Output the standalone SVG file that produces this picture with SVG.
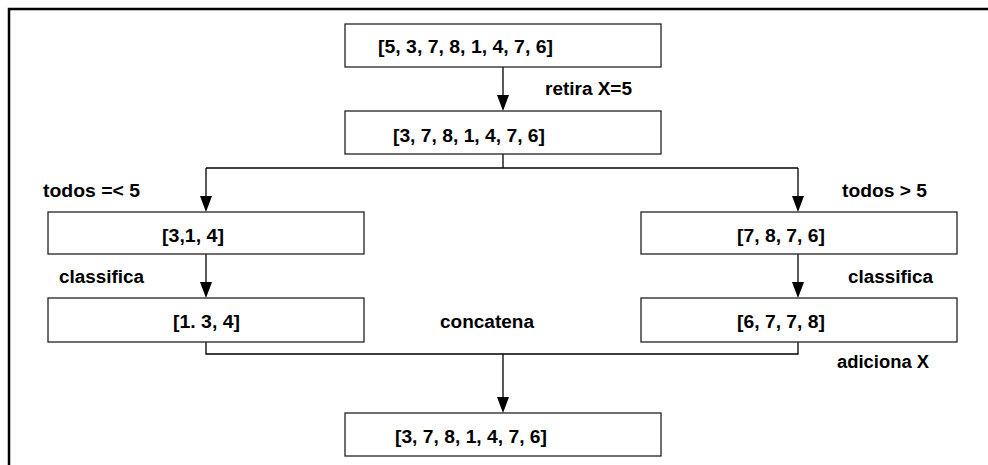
<svg xmlns="http://www.w3.org/2000/svg" width="988" height="465" viewBox="0 0 988 465">
<defs>
<style>
.box{fill:#fff;stroke:#222;stroke-width:1.3}
.t{font-family:"Liberation Sans",Arial,sans-serif;font-weight:bold;font-size:18px;fill:#000}
.c{fill:none;stroke:#000;stroke-width:1.3}
.ah{fill:#000}
</style>
</defs>
<rect width="988" height="465" fill="#fff"/>
<path d="M9,465 V9 H988" fill="none" stroke="#000" stroke-width="2.5"/>
<g id="connectors">
<line class="c" x1="503" y1="67" x2="503" y2="96"/>
<path class="c" d="M503,154 V168"/>
<path class="c" d="M206,168 H798"/>
<line class="c" x1="206" y1="168" x2="206" y2="198"/>
<line class="c" x1="798" y1="168" x2="798" y2="198"/>
<line class="c" x1="206" y1="254" x2="206" y2="284"/>
<line class="c" x1="798" y1="254" x2="798" y2="284"/>
<path class="c" d="M206,342 V354 H798 V342"/>
<line class="c" x1="503" y1="354" x2="503" y2="398"/>
<path class="ah" d="M497,95 L509,95 L503,111 Z"/>
<path class="ah" d="M200,196 L212,196 L206,212 Z"/>
<path class="ah" d="M792,196 L804,196 L798,212 Z"/>
<path class="ah" d="M200,282 L212,282 L206,298 Z"/>
<path class="ah" d="M792,282 L804,282 L798,298 Z"/>
<path class="ah" d="M497,397 L509,397 L503,413 Z"/>
</g>
<g id="n-top"><rect class="box" x="345" y="24" width="316" height="43"/><text class="t" x="378" y="53" textLength="175" lengthAdjust="spacingAndGlyphs">[5, 3, 7, 8, 1, 4, 7, 6]</text></g>
<g id="n-removed"><rect class="box" x="345" y="111" width="316" height="43"/><text class="t" x="393" y="142" textLength="152" lengthAdjust="spacingAndGlyphs">[3, 7, 8, 1, 4, 7, 6]</text></g>
<g id="n-left1"><rect class="box" x="48" y="212" width="316" height="42"/><text class="t" x="162" y="242" textLength="62" lengthAdjust="spacingAndGlyphs">[3,1, 4]</text></g>
<g id="n-left2"><rect class="box" x="48" y="298" width="316" height="44"/><text class="t" x="173" y="328" textLength="67" lengthAdjust="spacingAndGlyphs">[1. 3, 4]</text></g>
<g id="n-right1"><rect class="box" x="641" y="212" width="316" height="42"/><text class="t" x="737" y="242" textLength="88" lengthAdjust="spacingAndGlyphs">[7, 8, 7, 6]</text></g>
<g id="n-right2"><rect class="box" x="641" y="298" width="316" height="44"/><text class="t" x="737" y="328" textLength="88" lengthAdjust="spacingAndGlyphs">[6, 7, 7, 8]</text></g>
<g id="n-result"><rect class="box" x="345" y="413" width="316" height="43"/><text class="t" x="395" y="443" textLength="152" lengthAdjust="spacingAndGlyphs">[3, 7, 8, 1, 4, 7, 6]</text></g>
<g id="labels">
<text class="t" x="545" y="95" textLength="87" lengthAdjust="spacingAndGlyphs">retira X=5</text>
<text class="t" x="43" y="197" textLength="97" lengthAdjust="spacingAndGlyphs">todos =&lt; 5</text>
<text class="t" x="842" y="197" textLength="85" lengthAdjust="spacingAndGlyphs">todos &gt; 5</text>
<text class="t" x="59" y="283" textLength="85" lengthAdjust="spacingAndGlyphs">classifica</text>
<text class="t" x="848" y="283" textLength="85" lengthAdjust="spacingAndGlyphs">classifica</text>
<text class="t" x="440" y="328" textLength="94" lengthAdjust="spacingAndGlyphs">concatena</text>
<text class="t" x="837" y="368" textLength="92" lengthAdjust="spacingAndGlyphs">adiciona X</text>
</g>
</svg>
